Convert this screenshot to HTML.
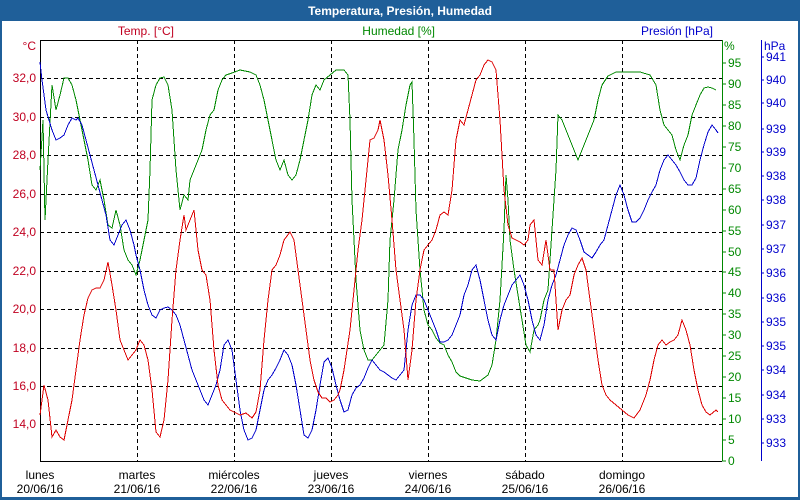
<!DOCTYPE html><html><head><style>body{margin:0;width:800px;height:500px;overflow:hidden;background:#fff}svg{display:block}text{font-family:"Liberation Sans",sans-serif;font-size:12px}polyline,path{shape-rendering:crispEdges}</style></head><body>
<svg width="800" height="500" viewBox="0 0 800 500">
<rect x="0" y="0" width="800" height="500" fill="#1f5f99"/>
<rect x="2" y="21" width="796" height="476" fill="#fff"/>
<text x="400" y="15" fill="#fff" font-weight="bold" text-anchor="middle" font-size="12">Temperatura, Presión, Humedad</text>
<g stroke="#000" stroke-dasharray="4,3" stroke-width="1">
<path d="M137.5 40V461M234.5 40V461M331.5 40V461M428.5 40V461M525.5 40V461M622.5 40V461"/>
<path d="M40 78.5H722M40 117.5H722M40 155.5H722M40 194.5H722M40 232.5H722M40 271.5H722M40 309.5H722M40 348.5H722M40 386.5H722M40 424.5H722"/>
</g>
<path d="M40.5 40V461.5H722M40 40.5H722" stroke="#000" fill="none"/>
<path d="M722.5 40V461" stroke="#080"/>
<path d="M761.5 40V461" stroke="#00c"/>
<g fill="#c00020" text-anchor="end">
<text x="36" y="50">°C</text>
<text x="36" y="82">32,0</text><text x="36" y="121">30,0</text><text x="36" y="159">28,0</text><text x="36" y="198">26,0</text><text x="36" y="236">24,0</text><text x="36" y="275">22,0</text><text x="36" y="313">20,0</text><text x="36" y="352">18,0</text><text x="36" y="390">16,0</text><text x="36" y="428">14,0</text>
<text x="174" y="35">Temp. [°C]</text>
</g>
<text x="435" y="35" fill="#080" text-anchor="end">Humedad [%]</text>
<text x="713" y="35" fill="#00c" text-anchor="end">Presión [hPa]</text>
<g fill="#080" stroke="#080">
<path d="M722 63h4M722 84h4M722 105h4M722 126h4M722 147h4M722 168h4M722 189h4M722 210h4M722 231h4M722 252h4M722 272h4M722 293h4M722 314h4M722 335h4M722 356h4M722 377h4M722 398h4M722 419h4M722 440h4M722 461h4"/>
</g>
<g fill="#080">
<text x="724" y="50">%</text>
<text x="728" y="67">95</text><text x="728" y="88">90</text><text x="728" y="109">85</text><text x="728" y="130">80</text><text x="728" y="151">75</text><text x="728" y="172">70</text><text x="728" y="193">65</text><text x="728" y="214">60</text><text x="728" y="235">55</text><text x="728" y="256">50</text><text x="728" y="276">45</text><text x="728" y="297">40</text><text x="728" y="318">35</text><text x="728" y="339">30</text><text x="728" y="360">25</text><text x="728" y="381">20</text><text x="728" y="402">15</text><text x="728" y="423">10</text><text x="728" y="444">5</text><text x="728" y="465">0</text>
</g>
<g fill="#00c">
<text x="764" y="50">hPa</text>
<text x="766" y="61">941</text><text x="766" y="84">940</text><text x="766" y="107">940</text><text x="766" y="133">939</text><text x="766" y="156">939</text><text x="766" y="180">938</text><text x="766" y="204">938</text><text x="766" y="229">937</text><text x="766" y="253">937</text><text x="766" y="277">936</text><text x="766" y="302">936</text><text x="766" y="326">935</text><text x="766" y="350">935</text><text x="766" y="374">934</text><text x="766" y="399">934</text><text x="766" y="423">933</text><text x="766" y="447">933</text>
</g>
<g stroke="#00c"><path d="M761 57h3M761 80h3M761 103h3M761 129h3M761 152h3M761 176h3M761 200h3M761 225h3M761 249h3M761 273h3M761 298h3M761 322h3M761 346h3M761 370h3M761 395h3M761 419h3M761 443h3"/></g>
<g fill="#000" text-anchor="middle">
<text x="40" y="479">lunes</text><text x="40" y="493">20/06/16</text>
<text x="137" y="479">martes</text><text x="137" y="493">21/06/16</text>
<text x="234" y="479">miércoles</text><text x="234" y="493">22/06/16</text>
<text x="331" y="479">jueves</text><text x="331" y="493">23/06/16</text>
<text x="428" y="479">viernes</text><text x="428" y="493">24/06/16</text>
<text x="525" y="479">sábado</text><text x="525" y="493">25/06/16</text>
<text x="622" y="479">domingo</text><text x="622" y="493">26/06/16</text>
</g>
<g fill="none" stroke-width="1">
<polyline stroke="#080" points="40,170 43,120 45,220 48,160 52,85 56,110 60,95 64,78 68,78 72,85 76,100 80,120 84,140 88,160 92,185 96,190 100,180 104,200 108,225 112,228 116,210 120,225 124,250 128,260 132,265 136,275 140,260 144,240 148,220 150,170 152,100 156,85 160,78 164,77 168,85 172,110 176,170 180,210 184,195 188,200 190,180 194,170 198,160 202,150 206,130 210,115 214,110 218,90 222,80 226,75 232,73 240,70 250,72 256,75 260,85 264,100 268,120 272,140 276,160 280,170 284,160 288,175 292,180 296,175 300,160 304,140 308,120 312,95 316,85 320,90 324,80 330,75 336,70 344,70 348,75 350,120 352,200 356,280 360,330 364,350 368,360 372,360 376,355 380,350 384,345 388,300 390,240 394,200 398,150 402,130 406,105 410,85 412,82 414,140 416,210 420,270 424,310 428,325 432,330 436,338 440,343 444,345 448,355 452,362 456,372 460,376 466,378 472,380 480,381 488,375 492,365 496,340 500,300 504,230 506,175 508,200 510,240 514,270 518,295 522,320 526,345 530,352 534,330 538,325 540,320 544,300 548,290 552,230 556,170 558,115 562,120 566,130 570,140 574,150 578,160 582,150 586,140 590,130 594,120 598,100 602,85 608,76 616,72 630,72 640,72 650,75 656,85 660,110 664,125 668,130 672,135 676,150 680,160 684,145 688,135 692,115 696,105 700,95 704,88 708,87 712,88 716,90"/>
<polyline stroke="#00c" points="40,62 42,80 46,110 52,130 56,140 60,138 64,135 68,125 72,118 76,120 78,118 82,125 86,140 90,155 94,170 98,185 102,200 106,215 110,240 114,245 118,235 122,225 126,220 130,230 134,245 136,255 140,270 144,290 148,305 152,315 156,318 160,310 164,308 168,307 172,310 176,315 180,325 184,340 188,355 192,370 196,380 200,390 204,400 208,405 212,395 216,385 220,370 224,345 228,340 232,350 236,380 240,410 244,430 248,440 252,438 256,430 260,410 264,390 268,380 272,375 276,368 280,360 284,350 288,355 292,365 296,385 300,410 304,435 308,438 312,430 316,410 320,385 324,362 328,358 332,368 336,385 340,400 344,412 348,410 352,395 356,388 360,385 364,378 368,368 372,360 376,365 380,370 384,372 388,375 392,378 396,380 400,375 404,370 408,330 412,305 416,295 420,295 424,300 428,310 432,320 436,330 440,342 444,342 448,340 452,335 456,325 460,315 464,295 468,285 472,270 476,265 480,280 484,300 488,320 492,335 496,340 500,320 504,305 508,295 512,285 516,280 520,275 524,285 528,300 532,320 536,335 540,340 544,325 548,300 552,285 556,275 560,260 564,245 568,235 572,228 576,230 580,240 584,252 588,255 592,258 596,252 600,245 604,240 608,225 612,210 616,195 620,185 624,195 628,210 632,222 636,222 640,218 644,210 648,200 652,192 656,185 660,170 664,160 668,155 672,160 676,165 680,172 684,180 688,185 692,185 696,178 700,160 704,145 708,132 712,125 716,130 718,133"/>
<polyline stroke="#d00" points="40,415 44,385 48,400 52,437 56,430 60,437 64,440 68,420 72,400 76,370 80,340 84,315 88,298 92,290 96,288 100,288 104,280 108,262 112,285 116,310 120,340 124,350 128,360 132,355 136,350 140,340 144,345 148,360 152,390 156,432 160,437 164,420 168,380 172,320 176,270 180,240 184,215 186,230 190,220 194,210 198,250 202,270 206,275 210,300 214,350 218,385 222,400 226,405 230,410 234,412 240,415 246,413 252,418 256,412 260,390 264,340 268,300 272,270 276,265 280,255 284,240 290,232 294,240 298,270 302,300 306,330 310,360 314,380 318,392 322,398 326,398 330,402 334,400 338,395 340,390 344,370 350,330 354,290 358,250 362,220 366,180 370,140 374,138 378,130 380,120 384,140 388,175 392,220 396,270 400,300 404,330 408,380 412,350 416,300 420,270 424,250 428,245 432,240 436,230 440,215 444,212 448,215 452,190 456,140 460,120 464,125 468,110 472,95 476,80 480,75 484,65 488,60 492,62 496,70 500,120 504,190 508,225 512,238 516,240 520,242 524,245 528,240 530,225 534,220 538,260 542,265 546,240 550,270 554,270 558,330 562,310 566,300 570,295 574,275 578,265 582,258 586,270 590,300 594,330 598,360 602,385 606,395 610,400 616,405 622,410 628,415 634,418 640,410 646,395 650,380 654,360 658,345 662,340 666,345 670,342 674,340 678,335 682,320 686,330 690,345 694,370 698,390 702,405 706,412 710,415 716,410 718,412"/>
</g>
</svg></body></html>
